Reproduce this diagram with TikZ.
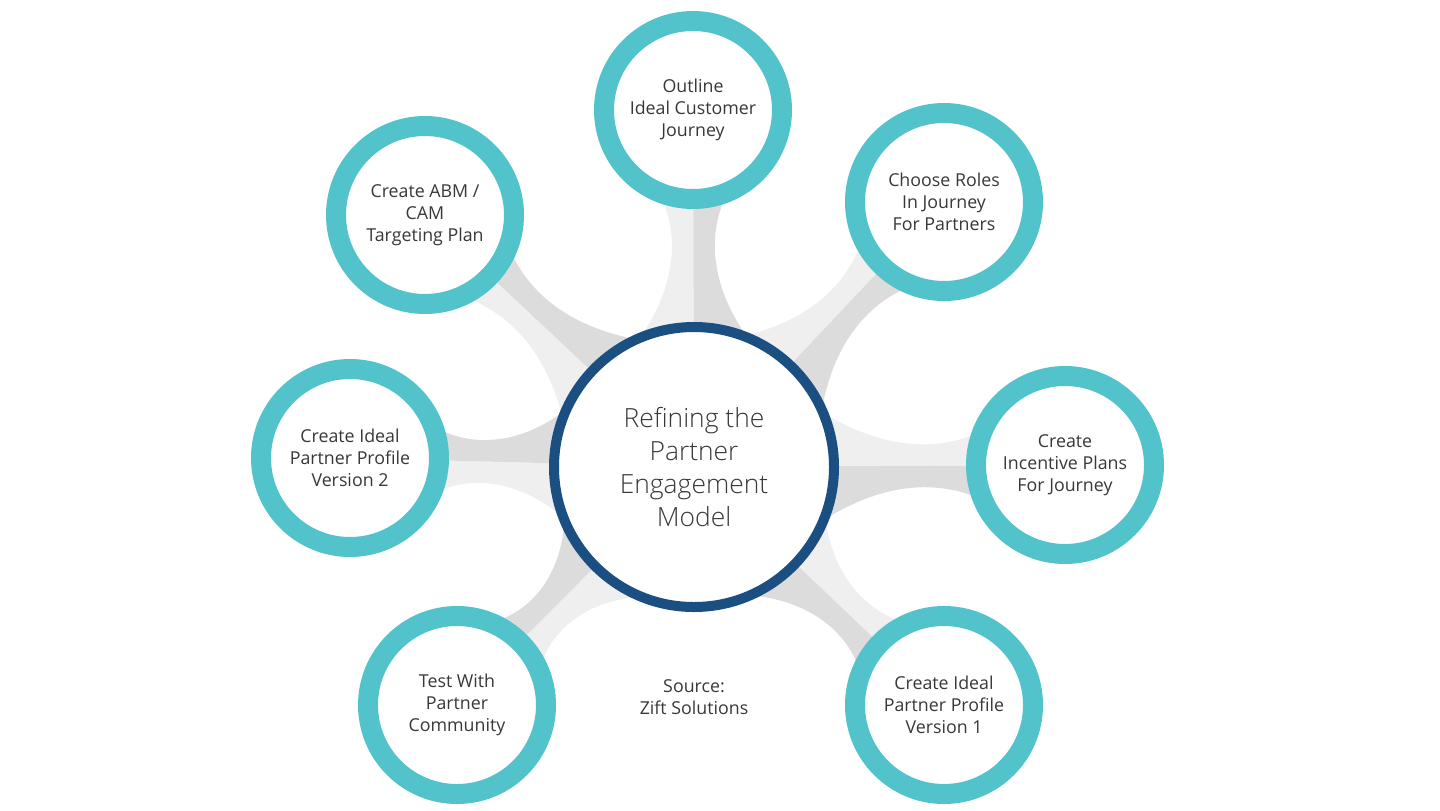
\documentclass[tikz,border=0pt]{standalone}
\usepackage{fontspec}
\setmainfont{Open Sans}
\IfFontExistsTF{Open Sans Light}{\newfontfamily\hublight{Open Sans Light}}{\newfontfamily\hublight{Open Sans}}
\usetikzlibrary{calc}
\usetikzlibrary{backgrounds}

\definecolor{zteal}{HTML}{53C3CB}
\definecolor{zblue}{HTML}{1B4F82}
\definecolor{zgreyd}{HTML}{DCDCDC}
\definecolor{zgreyl}{HTML}{EFEFEF}
\definecolor{ztext}{HTML}{383838}

\newcommand{\stagefont}{\fontsize{8.9}{11}\selectfont}
\newcommand{\hubfont}{\hublight\fontsize{13.2}{16.5}\selectfont}

\begin{document}
\begin{tikzpicture}[x=0.5pt, y=-0.5pt,
    stage/.style={circle, draw=zteal, line width=10pt, fill=white, minimum size=89pt, inner sep=0pt, align=center, font=\stagefont, text=ztext},
    hub/.style={circle, draw=zblue, line width=5pt, fill=white, minimum size=140pt, inner sep=0pt, align=center, font=\hubfont, text=ztext},
    note/.style={align=center, font=\stagefont, text=ztext},
    lighthalf/.style={fill=zgreyl},
    darkhalf/.style={fill=zgreyd}]
    \useasboundingbox (0,0) rectangle (1440,810);

    \node[hub] (hub) at (694,467) {Refining the\\Partner\\Engagement\\Model};

    \node[stage] (ocj) at (693,110) {Outline\\Ideal Customer\\Journey};
    \node[stage] (roles) at (944,202) {Choose Roles\\In Journey\\For Partners};
    \node[stage] (incent) at (1065,465) {Create\\Incentive Plans\\For Journey};
    \node[stage] (prof1) at (944,705) {Create Ideal\\Partner Profile\\Version 1};
    \node[stage] (test) at (457,705) {Test With\\Partner\\Community};
    \node[stage] (prof2) at (350,458) {Create Ideal\\Partner Profile\\Version 2};
    \node[stage] (abm) at (425,215) {Create ABM /\\CAM\\Targeting Plan};

    \node[note] (src) at (694,697) {Source:\\Zift Solutions};

    % spokes: light half on the ccw side, dark half on the cw side
    \begin{scope}[on background layer]
    \foreach \o in {ocj,roles,incent,prof1,test,prof2,abm} {
        \coordinate (m1) at ($(hub.center)!0.52!(\o.center)$);
        \coordinate (m2) at ($(hub.center)!0.66!(\o.center)$);
        \fill[lighthalf] ($(hub.center)!70.5pt!22:(\o.center)$)
            .. controls ($(m1)!7.5pt!90:(\o.center)$) and ($(m2)!7.5pt!90:(\o.center)$)
            .. ($(\o.center)!45pt!-22:(hub.center)$) -- (\o.center) -- (hub.center) -- cycle;
        \fill[darkhalf] ($(hub.center)!70.5pt!-22:(\o.center)$)
            .. controls ($(m1)!7.5pt!-90:(\o.center)$) and ($(m2)!7.5pt!-90:(\o.center)$)
            .. ($(\o.center)!45pt!22:(hub.center)$) -- (\o.center) -- (hub.center) -- cycle;
    }
    \end{scope}
\end{tikzpicture}
\end{document}
